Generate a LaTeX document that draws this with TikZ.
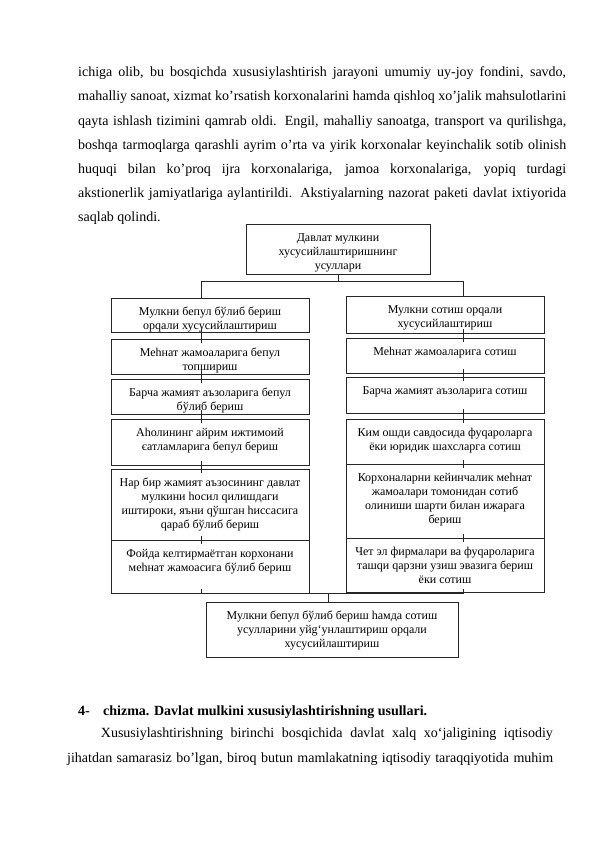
\documentclass[tikz,border=0pt]{standalone}
\usepackage{fontspec}
\setmainfont{Liberation Serif}
\tikzset{
  box/.style={draw=black!85, line width=0.8pt, inner sep=0pt, outer sep=0pt, font=\fontsize{12}{13.8}\selectfont},
  conn/.style={draw=black!85, line width=0.8pt},
  body/.style={anchor=base west, inner sep=0pt, font=\fontsize{14}{16}\selectfont}
}
\newcommand\bxx[6]{\node[box,anchor=north west,minimum width=#4pt,minimum height=#5pt] (#1) at (#2,#3) {\parbox[c][#5pt][t]{#4pt}{\centering\vspace*{8pt}\strut #6}};}
\begin{document}
\begin{tikzpicture}[x=1pt,y=-1pt]
\useasboundingbox (0,0) rectangle (595,843);
\fill[white] (0,0) rectangle (595,843);
% body text
\node[body] (t1) at (78,76.7) {\makebox[488pt][s]{ichiga olib, bu bosqichda xususiylashtirish jarayoni umumiy uy-joy fondini, savdo,}};
\node[body] (t2) at (78,100.9) {\makebox[488pt][s]{mahalliy sanoat, xizmat ko’rsatish korxonalarini hamda qishloq xo’jalik mahsulotlarini}};
\node[body] (t3) at (78,125.1) {\makebox[488pt][s]{qayta ishlash tizimini qamrab oldi. Engil, mahalliy sanoatga, transport va qurilishga,}};
\node[body] (t4) at (78,149.3) {\makebox[488pt][s]{boshqa tarmoqlarga qarashli ayrim o’rta va yirik korxonalar keyinchalik sotib olinish}};
\node[body] (t5) at (78,173.5) {\makebox[488pt][s]{huquqi bilan ko’proq ijra korxonalariga, jamoa korxonalariga, yopiq turdagi}};
\node[body] (t6) at (78,197.7) {\makebox[488pt][s]{akstionerlik jamiyatlariga aylantirildi. Akstiyalarning nazorat paketi davlat ixtiyorida}};
\node[body] (t7) at (78,221.9) {saqlab qolindi.};
% boxes
\bxx{top}{246}{224}{184}{50}{Давлат мулкини\\хусусийлаштиришнинг\\усуллари}
\bxx{l1}{111}{298}{198}{34}{Мулкни бепул бўлиб бериш\\орqали хусусийлаштириш}
\bxx{l2}{111}{339}{198}{35}{Меһнат жамоаларига бепул\\топшириш}
\bxx{l3}{111}{379}{198}{35}{Барча жамият аъзоларига бепул\\бўлиб бериш}
\bxx{l4}{111}{419}{198}{46}{Аһолининг айрим ижтимоий\\єатламларига бепул бериш}
\bxx{l5}{111}{469}{198}{71}{Нар бир жамият аъзосининг давлат\\мулкини һосил qилишдаги\\иштироки, яъни qўшган һиссасига\\qараб бўлиб бериш}
\bxx{l6}{111}{540}{198}{53}{Фойда келтирмаётган корхонани\\меһнат жамоасига бўлиб бериш}
\bxx{r1}{346}{296}{198}{37}{Мулкни сотиш орqали\\хусусийлаштириш}
\bxx{r2}{346}{338}{198}{35}{Меһнат жамоаларига сотиш}
\bxx{r3}{346}{377}{198}{36}{Барча жамият аъзоларига сотиш}
\bxx{r4}{346}{419}{198}{45}{Ким ошди савдосида фуqароларга\\ёки юридик шахсларга сотиш}
\bxx{r5}{346}{464}{198}{74}{Корхоналарни кейинчалик меһнат\\жамоалари томонидан сотиб\\олиниши шарти билан ижарага\\бериш}
\bxx{r6}{346}{538}{198}{54}{Чет эл фирмалари ва фуqароларига\\ташqи qарзни узиш эвазига бериш\\ёки сотиш}
\bxx{bot}{206}{602}{252}{55}{Мулкни бепул бўлиб бериш һамда сотиш\\усулларини уйg`унлаштириш орqали\\хусусийлаштириш}
% connector coordinates
\coordinate (lx) at (201,0);
\coordinate (rx) at (463,0);
\coordinate (bx) at (328,0);
\coordinate (jt) at (0,281);
\coordinate (jb) at (0,593.3);
% top connectors
\draw[conn] (top.south) -- (top.south |- jt);
\draw[conn] (lx |- l1.north) -- (lx |- jt) -- (rx |- jt) -- (rx |- r1.north);
% column connectors
\foreach \a/\b in {l1/l2,l2/l3,l3/l4,l4/l5,l5/l6}{
  \draw[conn] ([yshift=4pt]lx |- \a.south) -- ([yshift=-4pt]lx |- \b.north);
}
\foreach \a/\b in {r1/r2,r2/r3,r3/r4,r4/r5,r5/r6}{
  \draw[conn] ([yshift=4pt]rx |- \a.south) -- ([yshift=-4pt]rx |- \b.north);
}
% bottom connectors
\draw[conn] ([yshift=4pt]lx |- jb) -- (lx |- jb) -- (rx |- jb) -- ([yshift=4pt]rx |- jb);
\draw[conn] (bx |- jb) -- (bx |- bot.north);
% caption and text
\node[body, font=\fontsize{14}{16}\selectfont\bfseries] (c1) at (78,715) {4-};
\node[body, font=\fontsize{14}{16}\selectfont\bfseries] (c2) at (103,715) {chizma. Davlat mulkini xususiylashtirishning usullari.};
\node[body] (t8) at (100.7,737) {\makebox[452pt][s]{Xususiylashtirishning birinchi bosqichida davlat xalq xo‘jaligining iqtisodiy}};
\node[body] (t9) at (67,762) {\makebox[486pt][s]{jihatdan samarasiz bo’lgan, biroq butun mamlakatning iqtisodiy taraqqiyotida muhim}};
\end{tikzpicture}
\end{document}
